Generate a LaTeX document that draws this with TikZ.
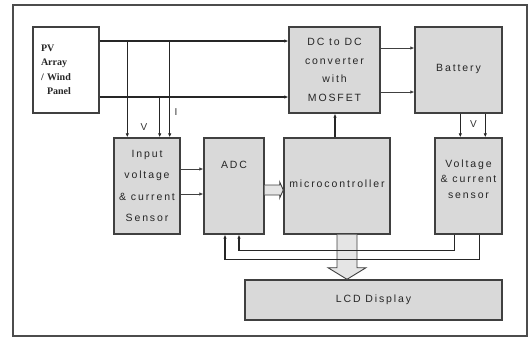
\documentclass[tikz,border=0pt]{standalone}
\usepackage{fontspec}
\setmainfont{Liberation Sans}[LetterSpace=18]
\newfontfamily\pvfont{Liberation Serif}
\usetikzlibrary{arrows.meta,calc}
\newcommand\bxfont{\fontsize{10.5pt}{18.5pt}\selectfont}
\begin{document}
\begin{tikzpicture}[x=1pt,y=-1pt,
  box/.style={draw=black!75, fill=black!15, line width=1.4pt, inner sep=0pt, align=center, font=\bxfont, text=black!85},
  arr/.style={line width=1.3pt, draw=black!85, -{Latex[length=4pt,width=3.5pt]}},
  thinarr/.style={line width=0.8pt, draw=black!75, -{Latex[length=4pt,width=3.5pt]}},
  hollow/.style={draw=black!75, line width=0.9pt, fill=black!10},
  inlbl/.style={align=center, inner sep=0pt, text=black!85},
  lbl/.style={font=\fontsize{10}{11}\selectfont, text=black!80, inner sep=0pt}]
\useasboundingbox (0,0) rectangle (529,338);
\draw[draw=black!70, line width=1.2pt] (13,5) rectangle (527,336);

\node[box, fill=white, minimum width=66pt, minimum height=86pt, text width=50pt, align=left,
  font=\pvfont\bfseries\fontsize{10pt}{14.5pt}\selectfont] (pv) at (66,70)
  {PV\\Array\\/ Wind\\\hspace*{6pt}Panel};
\node[box, minimum width=91pt, minimum height=86pt] (dc) at (334.5,70)
  {DC to DC\\converter\\with\\MOSFET};
\node[box, minimum width=87pt, minimum height=86pt] (bat) at (458.5,70) {\raisebox{5pt}{Battery}};
\node[box, minimum width=66pt, minimum height=96pt, font=\fontsize{10.5pt}{21.5pt}\selectfont] (ins) at (147,186)
  {Input\\voltage\\\& current\\Sensor};
\node[box, minimum width=60pt, minimum height=96pt,
  label={[anchor=north, inlbl, font=\bxfont, yshift=-24pt]north:ADC}] (adc) at (234,186) {};
\node[box, minimum width=106pt, minimum height=96pt] (mc) at (337,186) {\raisebox{5pt}{microcontroller}};
\node[box, minimum width=67pt, minimum height=96pt,
  label={[inlbl, font=\fontsize{10.5pt}{15.5pt}\selectfont, yshift=7pt]center:{Voltage\\\& current\\sensor}}] (vs) at (468.5,186) {};
\node[box, minimum width=257pt, minimum height=40pt] (lcd) at (373.5,300) {LCD Display};

% PV to DC converter
\coordinate (pvT) at ([yshift=29pt]pv.east);
\coordinate (pvB) at ([yshift=-27pt]pv.east);
\draw[arr] (pvT) -- (pvT -| dc.west);
\draw[arr] (pvB) -- (pvB -| dc.west);
% taps to input sensor
\draw[arr] ([xshift=14pt]ins.north west |- pvT) -- ([xshift=14pt]ins.north west);
\draw[arr] ([xshift=-11pt]ins.north east |- pvT) -- ([xshift=-11pt]ins.north east);
\draw[arr] ([xshift=-21pt]ins.north east |- pvB) -- ([xshift=-21pt]ins.north east);
\node[lbl] (vlab) at (144,127) {V};
\node[lbl] (ilab) at (176,112) {I};
% DC to battery
\draw[thinarr] ([yshift=22pt]dc.east) -- ([yshift=22pt]dc.east -| bat.west);
\draw[thinarr] ([yshift=-22pt]dc.east) -- ([yshift=-22pt]dc.east -| bat.west);
% micro to DC
\draw[arr] ([xshift=-2pt]mc.north) -- ([xshift=-2pt]mc.north |- dc.south);
% battery to voltage sensor
\draw[arr] ([xshift=26pt]vs.north west |- bat.south) -- ([xshift=26pt]vs.north west);
\draw[arr] ([xshift=51pt]vs.north west |- bat.south) -- ([xshift=51pt]vs.north west);
\node[lbl] (vlab2) at (473.5,124) {V};
% input sensor to ADC
\draw[thinarr] ([yshift=17pt]ins.east) -- ([yshift=17pt]adc.west);
\draw[thinarr] ([yshift=-8pt]ins.east) -- ([yshift=-8pt]adc.west);
% ADC to micro hollow arrow
\coordinate (am) at ([yshift=-4pt]adc.east);
\draw[hollow] ($(am)+(0,-5)$) -- ($(am)+(15,-5)$) -- ($(am)+(15,-8)$) -- (am -| mc.west)
  -- ($(am)+(15,8)$) -- ($(am)+(15,5)$) -- ($(am)+(0,5)$);
% micro to LCD hollow arrow
\coordinate (ml) at ([xshift=10pt]mc.south);
\draw[hollow] ($(ml)+(-10,0)$) -- ($(ml)+(-10,33)$) -- ($(ml)+(-19,33)$) -- (ml |- lcd.north)
  -- ($(ml)+(19,33)$) -- ($(ml)+(10,33)$) -- ($(ml)+(10,0)$);
% voltage sensor back to ADC
\draw[arr] ([xshift=20pt]vs.south west) -- ++(0,16) -| ([xshift=5pt]adc.south);
\draw[arr] ([xshift=45pt]vs.south west) -- ++(0,25) -| ([xshift=-9pt]adc.south);
\end{tikzpicture}
\end{document}
